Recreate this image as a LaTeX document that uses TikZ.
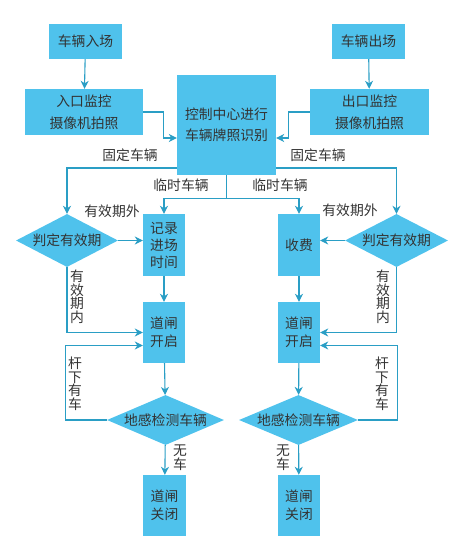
\documentclass[tikz,border=0pt]{standalone}
\usepackage{fontspec}
\setmainfont{Noto Sans CJK SC}
\usetikzlibrary{arrows.meta,shapes.geometric}
\definecolor{boxblue}{HTML}{4FC2EC}
\definecolor{linec}{HTML}{2A9EC5}
\definecolor{txt}{HTML}{333333}
\tikzset{
  box/.style={fill=boxblue, draw=none, inner sep=0pt, align=center, text=txt,
    font=\fontsize{13.8bp}{21bp}\selectfont},
  dia/.style={diamond, fill=boxblue, draw=none, inner sep=0pt, text=txt,
    font=\fontsize{13.8bp}{16bp}\selectfont},
  conn/.style={draw=linec, line width=1.1bp},
  arr/.style={conn, -{Stealth[length=8bp,width=8bp,inset=2.5bp]}},
  lbl/.style={inner sep=0pt, text=txt, font=\fontsize{13.8bp}{16bp}\selectfont},
  vlbl/.style={inner sep=0pt, text=txt, align=center, font=\fontsize{13.8bp}{13.6bp}\selectfont}
}
\begin{document}
\begin{tikzpicture}[x=1bp,y=-1bp]
\useasboundingbox (0,0) rectangle (464,549);
% boxes
\node[box, minimum width=73bp, minimum height=35bp] (in) at (85.5,41.5) {车辆入场};
\node[box, minimum width=118bp, minimum height=46bp, font=\fontsize{13.8bp}{22bp}\selectfont] (incam) at (84,112) {入口监控\\摄像机拍照};
\node[box, minimum width=99bp, minimum height=100bp] (ctrl) at (226.5,125) {控制中心进行\\车辆牌照识别};
\node[box, minimum width=73bp, minimum height=35bp] (out) at (368.5,41.5) {车辆出场};
\node[box, minimum width=119bp, minimum height=46bp, font=\fontsize{13.8bp}{22bp}\selectfont] (outcam) at (369.5,112) {出口监控\\摄像机拍照};
\node[box, minimum width=42bp, minimum height=62bp, font=\fontsize{13.8bp}{17bp}\selectfont] (rec) at (164,245) {记录\\进场\\时间};
\node[box, minimum width=42bp, minimum height=62bp] (fee) at (299,245) {收费};
\node[box, minimum width=42bp, minimum height=61bp, font=\fontsize{13.8bp}{18bp}\selectfont] (openL) at (164,332.5) {道闸\\开启};
\node[box, minimum width=42bp, minimum height=61bp, font=\fontsize{13.8bp}{18bp}\selectfont] (openR) at (299,332.5) {道闸\\开启};
\node[box, minimum width=43bp, minimum height=61bp, font=\fontsize{13.8bp}{18bp}\selectfont] (closeL) at (164.5,505.5) {道闸\\关闭};
\node[box, minimum width=42bp, minimum height=61bp, font=\fontsize{13.8bp}{18bp}\selectfont] (closeR) at (299,505.5) {道闸\\关闭};
% diamonds
\node[dia, aspect=1.92, minimum width=102bp, minimum height=53bp] (diamL) at (67,240.5) {判定有效期};
\node[dia, aspect=1.94, minimum width=103bp, minimum height=53bp] (diamR) at (396.5,240.5) {判定有效期};
\node[dia, aspect=2.4, minimum width=117bp, minimum height=50bp] (detL) at (165.5,420) {地感检测车辆};
\node[dia, aspect=2.4, minimum width=119bp, minimum height=50bp] (detR) at (298.5,420) {地感检测车辆};
% connectors
\draw[arr] (in) -- (incam);
\draw[arr] (out) -- (outcam);
\draw[arr] (incam.east) -- ++(20,0) |- ([yshift=-13bp]ctrl.west);
\draw[arr] (outcam.west) -- ++(-21,0) |- ([yshift=-13bp]ctrl.east);
\draw[arr] ([yshift=-43bp]ctrl.west) -| (diamL.north);
\draw[arr] ([yshift=-43bp]ctrl.east) -| (diamR.north);
\draw[conn] (ctrl.south) -- ++(0,23) coordinate (split);
\draw[arr] (split) -| (rec.north);
\draw[arr] (split) -| (fee.north);
\draw[arr] (diamL.east) -- (diamL.east -| rec.west);
\draw[arr] (diamR.west) -- (diamR.west -| fee.east);
\draw[arr] (rec) -- (openL);
\draw[arr] (fee) -- (openR);
\draw[arr] (diamL.south) |- (openL.west);
\draw[arr] (diamR.south) |- (openR.east);
\draw[arr] (openL) -- (detL);
\draw[arr] (openR) -- (detR);
\draw[arr] (detL.west) -- ++(-41,0) |- ([yshift=-13bp]openL.west);
\draw[arr] (detR.east) -- ++(39,0) |- ([yshift=-13bp]openR.east);
\draw[arr] (detL) -- (closeL);
\draw[arr] (detR) -- (closeR);
% labels
\node[lbl] (l1) at (130,155) {固定车辆};
\node[lbl] (l2) at (318,155) {固定车辆};
\node[lbl] (l3) at (181,185) {临时车辆};
\node[lbl] (l4) at (280,185) {临时车辆};
\node[lbl] (l5) at (112,211) {有效期外};
\node[lbl] (l6) at (350,210) {有效期外};
\node[vlbl, anchor=north] (l7) at (77,270) {有\\效\\期\\内};
\node[vlbl, anchor=north] (l8) at (383,270) {有\\效\\期\\内};
\node[vlbl, anchor=north] (l9) at (75,357) {杆\\下\\有\\车};
\node[vlbl, anchor=north] (l10) at (382,357) {杆\\下\\有\\车};
\node[vlbl, anchor=north] (l11) at (180,445) {无\\车};
\node[vlbl, anchor=north] (l12) at (283,445) {无\\车};
\end{tikzpicture}
\end{document}
